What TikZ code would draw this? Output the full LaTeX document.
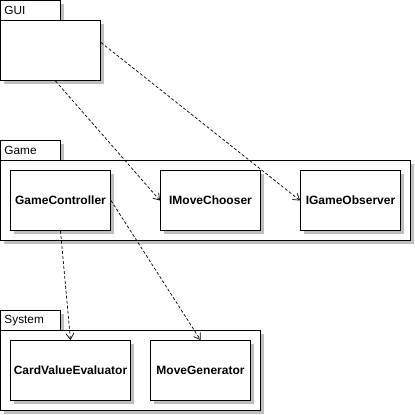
\documentclass[tikz,border=0pt]{standalone}
\usepackage{fontspec}
\setmainfont{Liberation Sans}
\usetikzlibrary{shadows,arrows.meta}
\tikzset{
  shad/.style={general shadow={fill=black!25, shadow xshift=3pt, shadow yshift=-3pt}},
  pkgbody/.style={draw, fill=white, line width=1pt, shad, anchor=north west, inner sep=0pt, minimum width=#1},
  pkgtab/.style={draw, fill=white, line width=1pt, shad, anchor=north west, inner sep=0pt, minimum width=60pt, minimum height=20pt, font=\fontsize{11.8}{13}\selectfont, text width=52pt, align=left},
  cls/.style={draw, fill=white, line width=1pt, shad, anchor=north west, inner sep=0pt, minimum width=#1, minimum height=60pt, font=\fontsize{12}{14}\selectfont\bfseries},
  dep/.style={line width=0.7pt, dash pattern=on 3pt off 2pt, -{Straight Barb[length=6pt,width=8pt,line width=0.7pt]}}
}
\begin{document}
\begin{tikzpicture}[x=1pt,y=-1pt]
\useasboundingbox (0,0) rectangle (415,415);
% GUI package
\node[pkgtab] (guitab) at (0,0) {GUI};
\node[pkgbody=100pt, minimum height=60pt] (gui) at (0,20) {};
% Game package
\node[pkgtab] (gametab) at (0,140) {Game};
\node[pkgbody=410pt, minimum height=80pt] (game) at (0,160) {};
\node[cls=100pt] (gc) at (10,170) {GameController};
\node[cls=100pt] (imc) at (160,170) {IMoveChooser};
\node[cls=100pt] (igo) at (300,170) {IGameObserver};
% System package
\node[pkgtab] (systab) at (0,310) {System};
\node[pkgbody=260pt, minimum height=80pt] (sys) at (0,330) {};
\node[cls=120pt] (cve) at (10,340) {CardValueEvaluator};
\node[cls=100pt] (mg) at (150,340) {MoveGenerator};
% dependencies
\draw[dep] ([xshift=5pt]gui.south) -- (imc.west);
\draw[dep] ([yshift=8pt]gui.east) -- (igo.west);
\draw[dep] (gc.south) -- (cve.north);
\draw[dep] (gc.east) -- (mg.north);
\end{tikzpicture}
\end{document}
